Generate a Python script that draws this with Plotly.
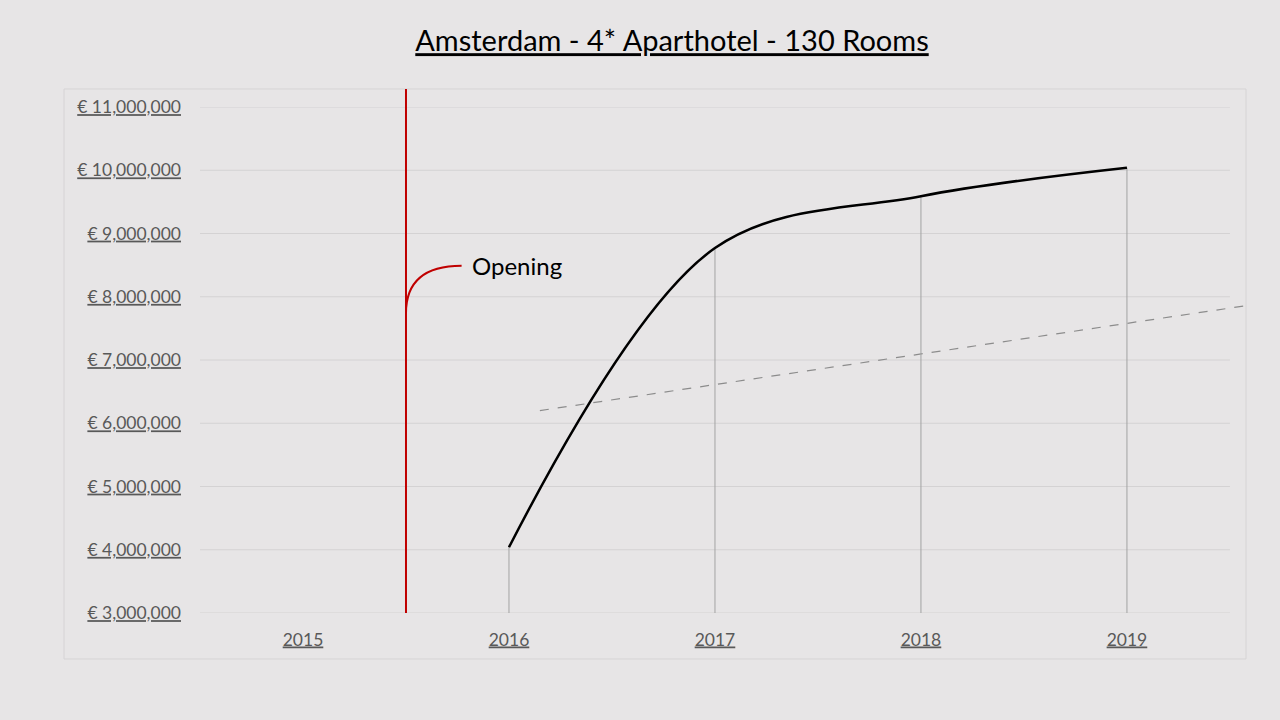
import plotly.graph_objects as go

# data
years = [2016, 2017, 2018, 2019]
revenue = [4040000, 8770000, 9590000, 10040000]
x_ticks = [2015, 2016, 2017, 2018, 2019]
y_ticks = [3000000, 4000000, 5000000, 6000000, 7000000, 8000000, 9000000, 10000000, 11000000]
y_labels = ["€ {:,}".format(v) for v in y_ticks]
trend_x = [2016.15, 2019.58]
trend_y = [6200000, 7860000]
opening_year = 2015.5
opening_y = 7740000
opening_label_y = 8490000

bg = "#E7E5E6"
label_font = dict(family="Lato, 'Open Sans', sans-serif", size=17.5, color="#595959", lineposition="under")

fig = go.Figure()

# trend line (dashed)
fig.add_trace(go.Scatter(
    x=trend_x, y=trend_y, mode="lines",
    line=dict(color="#8C8C8C", width=1.2, dash="dash"),
    hoverinfo="skip", showlegend=False))

# main series, smoothed, with drop lines to the axis
fig.add_trace(go.Scatter(
    x=years, y=revenue, mode="lines",
    line=dict(color="black", width=2.5, shape="spline", smoothing=1.0),
    error_y=dict(type="data", symmetric=False,
                 array=[0] * len(revenue),
                 arrayminus=[v - y_ticks[0] for v in revenue],
                 color="#A3A3A3", thickness=1, width=0),
    showlegend=False))

shapes = []
# horizontal grid lines
for v in y_ticks:
    shapes.append(dict(type="line", xref="x", yref="y", x0=x_ticks[0] - 0.5, x1=x_ticks[-1] + 0.5,
                       y0=v, y1=v, line=dict(color="#D4D2D3", width=1), layer="below"))
# chart area border
shapes.append(dict(type="rect", xref="paper", yref="paper", x0=-0.130, x1=1.0, y0=-0.0909, y1=1.0356,
                   line=dict(color="#D6D4D5", width=1), layer="below"))
# opening marker
shapes.append(dict(type="line", xref="x", yref="paper", x0=opening_year, x1=opening_year,
                   y0=0, y1=1.0356, line=dict(color="#C00000", width=2)))
shapes.append(dict(type="path", xref="x", yref="y",
                   path="M {0},{1} Q {0},{2} {3},{2}".format(opening_year, opening_y, opening_label_y, opening_year + 0.27),
                   line=dict(color="#C00000", width=2)))

fig.update_layout(
    width=1280, height=720,
    paper_bgcolor=bg, plot_bgcolor=bg,
    margin=dict(l=200, r=34, t=107, b=107),
    shapes=shapes,
    title=dict(text="Amsterdam - 4* Aparthotel - 130 Rooms", x=0.525, xanchor="center", y=0.943, yanchor="middle",
               font=dict(family="Lato, 'Open Sans', sans-serif", size=29, color="black", lineposition="under")),
    annotations=[dict(x=opening_year + 0.31, y=opening_label_y, xref="x", yref="y", text="Opening",
                      showarrow=False, xanchor="left", yanchor="middle",
                      font=dict(family="Lato, 'Open Sans', sans-serif", size=24, color="black"))],
    xaxis=dict(range=[2014.5, 2019.578], tickvals=x_ticks, ticktext=[str(t) for t in x_ticks],
               showgrid=False, zeroline=False, showline=False, ticks="", tickfont=label_font, ticklabelstandoff=14),
    yaxis=dict(range=[3000000, 11000000], tickvals=y_ticks, ticktext=y_labels,
               showgrid=False, zeroline=False, showline=False, ticks="", tickfont=label_font, ticklabelstandoff=18),
)

fig.write_html("out.html", config={"displayModeBar": False},
               post_script="document.body.style.margin='0';document.body.style.background='#E7E5E6';")
